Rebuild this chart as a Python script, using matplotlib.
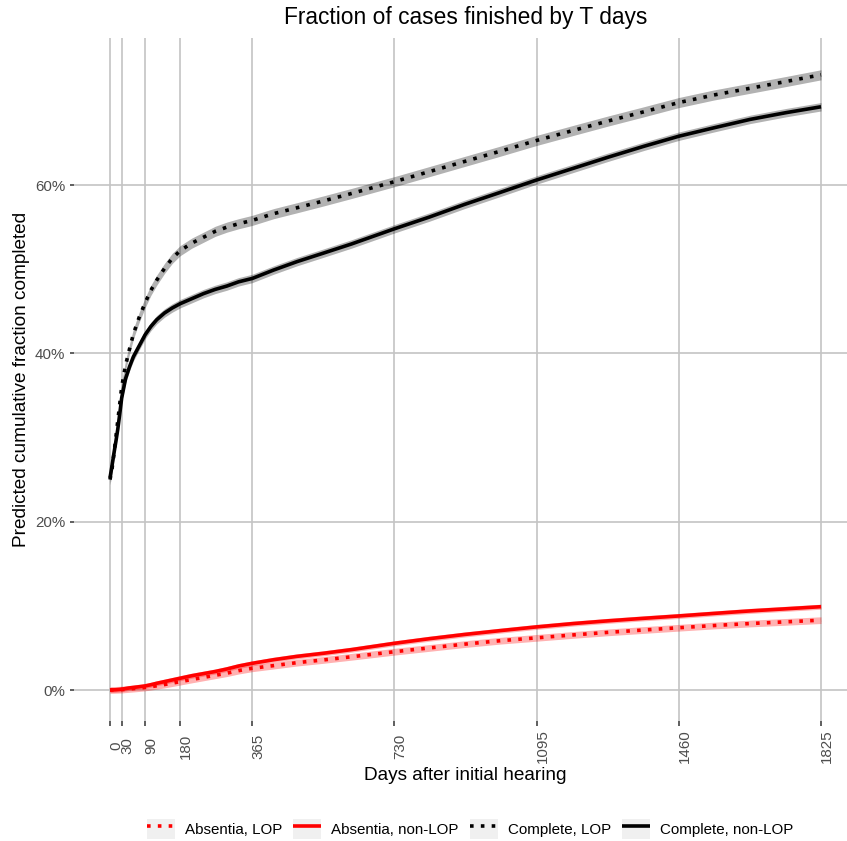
import numpy as np
import matplotlib
matplotlib.use('Agg')
import matplotlib.pyplot as plt
from matplotlib.patches import Patch
from matplotlib.lines import Line2D
from matplotlib.legend_handler import HandlerTuple
from matplotlib.transforms import ScaledTranslation

# days after initial hearing
days = [0, 5, 10, 15, 20, 25, 30, 40, 50, 60, 75, 90, 105, 120, 140, 160,
        180, 210, 240, 270, 300, 330, 365, 420, 480, 547, 620, 730, 820, 910,
        1000, 1095, 1190, 1278, 1370, 1460, 1550, 1643, 1735, 1825]

# predicted cumulative fraction completed
absentia_lop = [0, 0.0001, 0.0001, 0.0002, 0.0003, 0.0004, 0.0005, 0.0009,
                0.0013, 0.0017, 0.0023, 0.003, 0.004, 0.005, 0.0065, 0.0082,
                0.0099, 0.0125, 0.015, 0.0175, 0.020, 0.023, 0.0258, 0.029,
                0.0325, 0.0357, 0.0395, 0.0455, 0.050, 0.0545, 0.0585, 0.062,
                0.0655, 0.0685, 0.0713, 0.074, 0.0766, 0.079, 0.081, 0.083]
absentia_nonlop = [0, 0.0001, 0.0002, 0.0003, 0.0005, 0.0007, 0.001, 0.0017,
                   0.0025, 0.003, 0.0039, 0.0048, 0.0063, 0.008, 0.010, 0.012,
                   0.014, 0.017, 0.0195, 0.022, 0.025, 0.0285, 0.0317, 0.036,
                   0.040, 0.0436, 0.048, 0.0555, 0.061, 0.066, 0.0705, 0.075,
                   0.079, 0.0822, 0.0852, 0.088, 0.091, 0.094, 0.0965, 0.099]
complete_lop = [0.250, 0.262, 0.280, 0.300, 0.320, 0.340, 0.360, 0.386, 0.405,
                0.423, 0.443, 0.460, 0.475, 0.487, 0.501, 0.513, 0.522, 0.531,
                0.538, 0.545, 0.550, 0.554, 0.558, 0.566, 0.573, 0.581, 0.590,
                0.604, 0.616, 0.628, 0.640, 0.653, 0.665, 0.676, 0.687, 0.698,
                0.707, 0.715, 0.723, 0.731]
complete_nonlop = [0.252, 0.266, 0.281, 0.295, 0.310, 0.328, 0.347, 0.370,
                   0.384, 0.396, 0.409, 0.422, 0.432, 0.440, 0.448, 0.454,
                   0.459, 0.465, 0.471, 0.476, 0.480, 0.485, 0.489, 0.499,
                   0.509, 0.519, 0.530, 0.548, 0.562, 0.577, 0.591, 0.606,
                   0.620, 0.633, 0.646, 0.658, 0.668, 0.678, 0.686, 0.693]

# half width of the confidence ribbons
band_halfwidth = {'Absentia, LOP': 0.004, 'Absentia, non-LOP': 0.003,
                  'Complete, LOP': 0.006, 'Complete, non-LOP': 0.005}

xticks = [0, 30, 90, 180, 365, 730, 1095, 1460, 1825]
yticks = [0, 0.2, 0.4, 0.6]
ytick_labels = ['0%', '20%', '40%', '60%']

series = [('Absentia, LOP', absentia_lop, 'red', True),
          ('Absentia, non-LOP', absentia_nonlop, 'red', False),
          ('Complete, LOP', complete_lop, 'black', True),
          ('Complete, non-LOP', complete_nonlop, 'black', False)]


def main():
    plt.rcParams['font.family'] = ['Liberation Sans', 'DejaVu Sans']
    fig = plt.figure(figsize=(8.47, 8.41), dpi=100)
    ax = fig.add_axes([0.0879, 0.1427, 0.9234, 0.8121])

    lw = 2.6
    handles = []
    x = np.array(days)
    for name, vals, col, dotted in series:
        v = np.array(vals)
        hw = band_halfwidth[name]
        ax.fill_between(x, v - hw, v + hw, color=col, alpha=0.3, lw=0)
    for name, vals, col, dotted in series:
        kw = dict(color=col, lw=lw, solid_capstyle='butt', dash_capstyle='butt')
        if dotted:
            kw['dashes'] = (1, 2)
        ax.plot(days, vals, **kw)
        key = Patch(facecolor='#f0f0f0', edgecolor='none')
        handles.append((key, Line2D([], [], **kw)))

    ax.set_xlim(-91.25, 1916.25)
    ax.set_ylim(-0.0368, 0.7747)
    ax.set_xticks(xticks)
    ax.set_xticklabels([str(t) for t in xticks], rotation=90, va='center')
    ax.set_yticks(yticks)
    ax.set_yticklabels(ytick_labels)
    ax.grid(True, color='#c4c4c4', lw=1.2)
    ax.set_axisbelow(True)
    for s in ax.spines.values():
        s.set_visible(False)
    ax.tick_params(axis='x', length=3.6, width=1.1, color='#333333',
                   labelcolor='#4d4d4d', labelsize=10.9, pad=14.4)
    ax.tick_params(axis='y', length=3.0, width=1.1, color='#333333',
                   labelcolor='#4d4d4d', labelsize=10.9, pad=3.6)
    off = ScaledTranslation(6 / 100, 0, fig.dpi_scale_trans)
    for lab in ax.get_xticklabels():
        lab.set_transform(lab.get_transform() + off)

    ax.set_title('Fraction of cases finished by T days', fontsize=16.4, pad=10)
    ax.set_xlabel('Days after initial hearing', fontsize=13.7)
    ax.xaxis.set_label_coords(0.5, -0.0673)
    ax.set_ylabel('Predicted cumulative fraction completed', fontsize=13.7)
    ax.yaxis.set_label_coords(-0.0568, 0.5)

    fig.legend(handles, [s[0] for s in series],
               handler_map={tuple: HandlerTuple(ndivide=1, pad=0)},
               loc='center', bbox_to_anchor=(0.5549, 0.0143), ncol=4,
               frameon=False, fontsize=10.9, handlelength=1.85,
               handleheight=1.65, handletextpad=0.66, columnspacing=0.73,
               borderpad=0)

    fig.savefig('out.png', dpi=100)


if __name__ == '__main__':
    main()
